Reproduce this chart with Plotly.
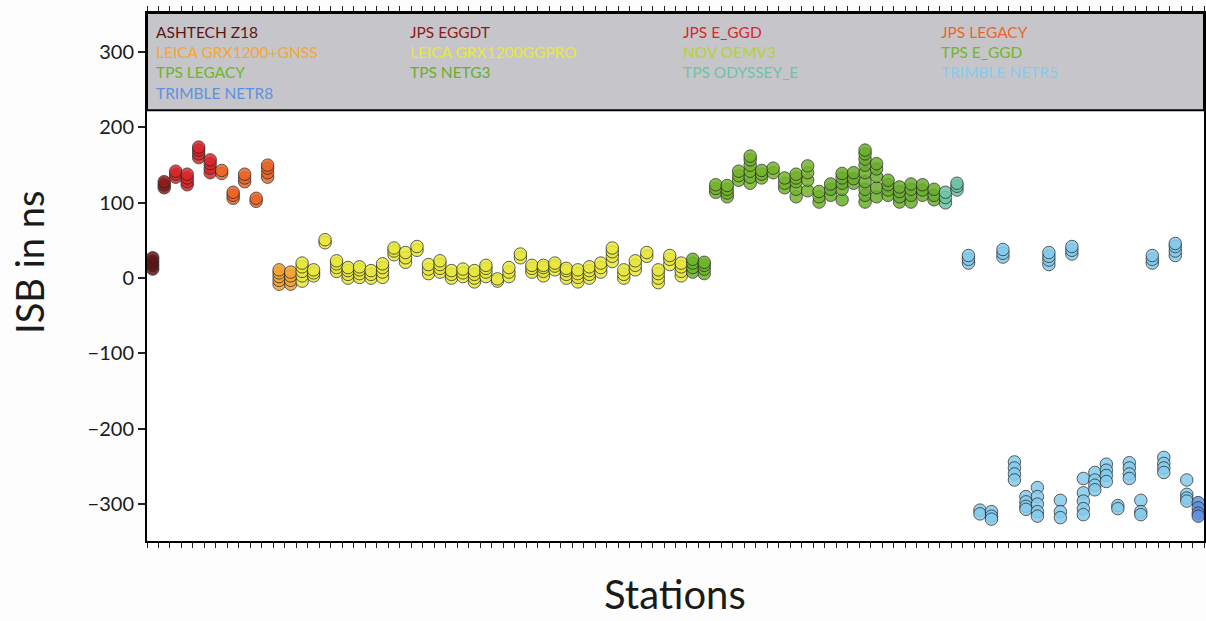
import plotly.graph_objects as go

# ---------------- data ----------------
receivers = [
    "ASHTECH Z18", "JPS EGGDT", "JPS E_GGD", "JPS LEGACY",
    "LEICA GRX1200+GNSS", "LEICA GRX1200GGPRO", "NOV OEMV3", "TPS E_GGD",
    "TPS LEGACY", "TPS NETG3", "TPS ODYSSEY_E", "TRIMBLE NETR5",
    "TRIMBLE NETR8",
]
receiver_colors = [
    "#5e1414", "#8e1a1a", "#d9262a", "#ec6526",
    "#f5a534", "#e9e83c", "#b3d235", "#74b42c",
    "#6db52a", "#6aae2c", "#6cc4a4", "#84cbec",
    "#5f90e0",
]

station_receiver = [
    "ASHTECH Z18", "JPS EGGDT", "JPS E_GGD", "JPS E_GGD", "JPS E_GGD", "JPS E_GGD",
    "JPS LEGACY", "JPS LEGACY", "JPS LEGACY", "JPS LEGACY", "JPS LEGACY",
    "LEICA GRX1200+GNSS", "LEICA GRX1200+GNSS",
    "LEICA GRX1200GGPRO", "LEICA GRX1200GGPRO", "LEICA GRX1200GGPRO", "LEICA GRX1200GGPRO",
    "LEICA GRX1200GGPRO", "LEICA GRX1200GGPRO", "LEICA GRX1200GGPRO", "LEICA GRX1200GGPRO",
    "LEICA GRX1200GGPRO", "LEICA GRX1200GGPRO", "LEICA GRX1200GGPRO", "LEICA GRX1200GGPRO",
    "LEICA GRX1200GGPRO", "LEICA GRX1200GGPRO", "LEICA GRX1200GGPRO", "LEICA GRX1200GGPRO",
    "LEICA GRX1200GGPRO", "LEICA GRX1200GGPRO", "LEICA GRX1200GGPRO", "LEICA GRX1200GGPRO",
    "LEICA GRX1200GGPRO", "LEICA GRX1200GGPRO", "LEICA GRX1200GGPRO", "LEICA GRX1200GGPRO",
    "LEICA GRX1200GGPRO", "LEICA GRX1200GGPRO", "LEICA GRX1200GGPRO", "LEICA GRX1200GGPRO",
    "LEICA GRX1200GGPRO", "LEICA GRX1200GGPRO", "LEICA GRX1200GGPRO", "LEICA GRX1200GGPRO",
    "LEICA GRX1200GGPRO", "LEICA GRX1200GGPRO",
    "TPS LEGACY", "TPS LEGACY",
    "TPS E_GGD", "TPS E_GGD", "TPS E_GGD", "TPS E_GGD", "TPS E_GGD",
    "TPS E_GGD", "TPS E_GGD", "TPS E_GGD", "TPS E_GGD", "TPS E_GGD",
    "TPS NETG3", "TPS NETG3", "TPS NETG3", "TPS NETG3", "TPS NETG3",
    "TPS NETG3", "TPS NETG3", "TPS NETG3", "TPS NETG3", "TPS NETG3",
    "TPS ODYSSEY_E", "TPS ODYSSEY_E",
    "TRIMBLE NETR5", "TRIMBLE NETR5", "TRIMBLE NETR5", "TRIMBLE NETR5", "TRIMBLE NETR5",
    "TRIMBLE NETR5", "TRIMBLE NETR5", "TRIMBLE NETR5", "TRIMBLE NETR5", "TRIMBLE NETR5",
    "TRIMBLE NETR5", "TRIMBLE NETR5", "TRIMBLE NETR5", "TRIMBLE NETR5", "TRIMBLE NETR5",
    "TRIMBLE NETR5", "TRIMBLE NETR5", "TRIMBLE NETR5", "TRIMBLE NETR5", "TRIMBLE NETR5",
    "TRIMBLE NETR8",
]

station_isb = [
    [12, 17, 22, 27],            # 0
    [120, 124, 128],             # 1
    [134, 138, 142],             # 2
    [124, 128, 133, 138],        # 3
    [160, 165, 170, 174],        # 4
    [140, 146, 152, 157],        # 5
    [139, 143],                  # 6
    [106, 110, 114],             # 7
    [128, 133, 138],             # 8
    [102, 106],                  # 9
    [134, 140, 146, 150],        # 10
    [-8, -3, 2, 7, 11],          # 11
    [-8, -3, 3, 8],              # 12
    [-4, 3, 9, 15, 20],          # 13
    [3, 7, 11],                  # 14
    [47, 51],                    # 15
    [9, 14, 19, 23],             # 16
    [0, 5, 10, 14],              # 17
    [1, 6, 11, 15],              # 18
    [0, 5, 10],                  # 19
    [1, 8, 14, 19],              # 20
    [31, 36, 40],                # 21
    [21, 27, 34],                # 22
    [37, 42],                    # 23
    [6, 12, 18],                 # 24
    [8, 13, 18, 23],             # 25
    [0, 5, 10],                  # 26
    [2, 7, 12],                  # 27
    [-5, 0, 5, 10],              # 28
    [2, 8, 13, 17],              # 29
    [-4, -1],                    # 30
    [2, 8, 14],                  # 31
    [27, 32],                    # 32
    [8, 13, 17],                 # 33
    [3, 9, 14, 17],              # 34
    [11, 16, 20],                # 35
    [0, 5, 10, 13],              # 36
    [-5, 1, 6, 11],              # 37
    [0, 5, 10, 15],              # 38
    [8, 14, 20],                 # 39
    [22, 29, 35, 40],            # 40
    [0, 5, 11],                  # 41
    [11, 17, 23],                # 42
    [29, 34],                    # 43
    [-6, 0, 6, 11],              # 44
    [18, 25, 30],                # 45
    [3, 9, 15, 20],              # 46
    [8, 14, 20, 25],             # 47
    [6, 12, 17, 21],             # 48
    [114, 119, 124],             # 49
    [108, 113, 118, 123],        # 50
    [130, 136, 142],             # 51
    [126, 134, 142, 150, 157, 162],  # 52
    [133, 138, 143],             # 53
    [140, 146],                  # 54
    [120, 126, 133],             # 55
    [108, 118, 128, 133, 138],   # 56
    [116, 130, 140, 149],        # 57
    [101, 108, 115],             # 58
    [110, 118, 125],             # 59
    [104, 118, 126, 133, 139],   # 60
    [126, 132, 140],             # 61
    [101, 110, 118, 128, 140, 150, 158, 165, 170],  # 62
    [108, 120, 135, 145, 152],   # 63
    [110, 117, 124, 130],        # 64
    [101, 108, 115, 121],        # 65
    [101, 110, 118, 125],        # 66
    [110, 117, 124],             # 67
    [104, 110, 118],             # 68
    [100, 107, 114],             # 69
    [117, 122, 126],             # 70
    [20, 25, 30],                # 71
    [-308, -313],                # 72
    [-310, -316, -320],          # 73
    [28, 33, 38],                # 74
    [-244, -252, -260, -268],    # 75
    [-290, -297, -303, -307],    # 76
    [-278, -290, -300, -310, -316],  # 77
    [18, 24, 29, 34],            # 78
    [-295, -310, -318],          # 79
    [32, 37, 42],                # 80
    [-266, -285, -296, -306, -314],  # 81
    [-258, -268, -275, -281],    # 82
    [-247, -255, -262, -270],    # 83
    [-302, -306],                # 84
    [-245, -252, -260, -266],    # 85
    [-295, -310, -314],          # 86
    [20, 25, 30],                # 87
    [-238, -246, -252, -258],    # 88
    [30, 36, 42, 46],            # 89
    [-268, -287, -292, -296],    # 90
    [-298, -305, -312, -316],    # 91
]

y_ticks = [-300, -200, -100, 0, 100, 200, 300]

# ---------------- figure ----------------
FONT = "Lato"
n_st = len(station_isb)

fig = go.Figure()
for name, col in zip(receivers, receiver_colors):
    xs, ys = [], []
    for i, (r, vals) in enumerate(zip(station_receiver, station_isb)):
        if r == name:
            for v in vals:
                xs.append(i + 0.5)
                ys.append(v)
    if not xs:
        continue
    fig.add_trace(go.Scatter(
        x=xs, y=ys, mode="markers", name=name, showlegend=False, cliponaxis=False,
        marker=dict(size=12.5, color=col, opacity=0.85,
                    line=dict(color="rgba(35,35,35,0.85)", width=1)),
    ))

# legend box
fig.add_shape(type="rect", xref="paper", yref="paper", x0=0, x1=1, y0=0.816, y1=1,
              fillcolor="#c6c6ca", line=dict(color="black", width=2), layer="below")

col_x = [0.0062, 0.247, 0.505, 0.749]
row_y = [0.964, 0.926, 0.888, 0.849]
for k, (name, col) in enumerate(zip(receivers, receiver_colors)):
    fig.add_annotation(text=name, x=col_x[k % 4], y=row_y[k // 4], xref="paper", yref="paper",
                       xanchor="left", yanchor="middle", showarrow=False,
                       font=dict(family=FONT, size=15.5, color=col))

fig.add_annotation(text="ISB in ns", x=-0.111, y=0.528, xref="paper", yref="paper",
                   textangle=-90, showarrow=False, xanchor="center", yanchor="middle",
                   font=dict(family=FONT, size=38, color="#1a1a1a"))
fig.add_annotation(text="Stations", x=0.4995, y=-0.1, xref="paper", yref="paper",
                   showarrow=False, xanchor="center", yanchor="middle",
                   font=dict(family=FONT, size=40, color="#1a1a1a"))

fig.update_layout(
    width=1206, height=621, autosize=False,
    margin=dict(l=147, r=2, t=13, b=80, pad=0, autoexpand=False),
    paper_bgcolor="#fdfdfd", plot_bgcolor="white",
    xaxis=dict(range=[0, n_st], tickvals=list(range(n_st + 1)), showticklabels=False,
               ticks="outside", ticklen=5, tickwidth=1, tickcolor="#222",
               showline=True, linewidth=2, linecolor="black", mirror="allticks",
               showgrid=False, zeroline=False, fixedrange=True, automargin=False),
    yaxis=dict(range=[-349, 352], tickvals=y_ticks, ticks="outside", ticklen=7,
               tickwidth=1.5, tickcolor="#222",
               tickfont=dict(family=FONT, size=20, color="#1a1a1a"),
               showline=True, linewidth=2, linecolor="black", mirror="allticks",
               showgrid=False, zeroline=False, fixedrange=True, automargin=False),
    font=dict(family=FONT),
)

fig.write_html("out.html")
